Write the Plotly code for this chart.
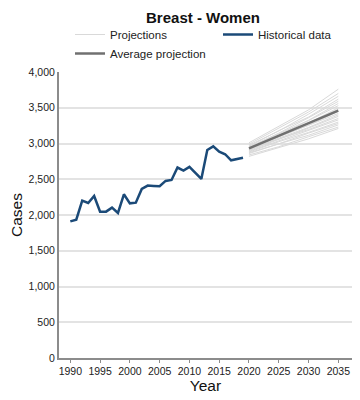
import plotly.graph_objects as go

hist_years = list(range(1990, 2020))
hist_cases = [1911, 1935, 2200, 2168, 2266, 2047, 2047, 2103, 2028, 2290,
              2163, 2173, 2364, 2411, 2406, 2402, 2477, 2490, 2664, 2622,
              2673, 2584, 2505, 2910, 2960, 2885, 2850, 2765, 2785, 2800]

proj_years = [2020, 2025, 2030, 2035]
projection_runs = [
    [3010, 3240, 3470, 3760],
    [2990, 3210, 3440, 3700],
    [2975, 3175, 3410, 3660],
    [2960, 3180, 3370, 3620],
    [2950, 3145, 3360, 3590],
    [2945, 3135, 3325, 3560],
    [2940, 3115, 3320, 3530],
    [2930, 3115, 3285, 3500],
    [2925, 3095, 3280, 3480],
    [2920, 3095, 3255, 3450],
    [2935, 3090, 3255, 3420],
    [2910, 3075, 3225, 3400],
    [2900, 3055, 3215, 3380],
    [2915, 3065, 3195, 3350],
    [2890, 3035, 3185, 3330],
    [2880, 3025, 3155, 3300],
    [2870, 2995, 3145, 3280],
    [2860, 2995, 3115, 3260],
    [2840, 2955, 3095, 3230],
    [2820, 2945, 3065, 3210],
]
avg_projection = [2932, 3110, 3285, 3460]

x_ticks = list(range(1990, 2040, 5))
y_ticks = list(range(0, 4500, 500))

FONT = "Liberation Sans, Arial, sans-serif"

# page body has an 8px margin, so the figure is 352x392 drawn at (8, 8)
W, H = 352, 392

fig = go.Figure()
for i, run in enumerate(projection_runs):
    fig.add_trace(go.Scatter(
        x=proj_years, y=run, mode="lines",
        line=dict(color="#d9d9d9", width=1),
        name="Projections", legendgroup="proj",
        showlegend=(i == 0), legendrank=1, hoverinfo="skip"))

fig.add_trace(go.Scatter(
    x=proj_years, y=avg_projection, mode="lines",
    line=dict(color="#707070", width=2.5),
    name="Average projection", legendrank=3))

fig.add_trace(go.Scatter(
    x=hist_years, y=hist_cases, mode="lines",
    line=dict(color="#1b4a78", width=2.5),
    name="Historical data", legendrank=2))

fig.update_layout(
    width=W, height=H,
    margin=dict(l=51, r=8, t=64, b=42, autoexpand=False),
    paper_bgcolor="white", plot_bgcolor="white",
    font=dict(family=FONT, color="#222222", size=11),
    title=dict(text="<b>Breast - Women</b>", x=195 / W, xref="container",
               xanchor="center", y=1 - 10 / H, yanchor="middle",
               font=dict(size=15, color="#111111")),
    legend=dict(orientation="h", xref="container", yref="container",
                x=62 / W, xanchor="left", y=1 - 12 / H, yanchor="top",
                entrywidth=103, entrywidthmode="pixels",
                font=dict(size=11.5, color="#222222"),
                bgcolor="rgba(0,0,0,0)", traceorder="normal"),
    showlegend=True,
)

fig.update_xaxes(
    range=[1988.1, 2037.3], tickvals=x_ticks,
    ticktext=[str(v) for v in x_ticks],
    showgrid=False, zeroline=False,
    showline=True, linecolor="#8c8c8c", linewidth=1.5,
    ticks="outside", ticklen=3, tickcolor="#8c8c8c",
    tickfont=dict(size=10.5, color="#222222"),
    title=dict(text="Year", font=dict(size=15.5, color="#111111"), standoff=0),
)
fig.update_yaxes(
    range=[0, 4000], tickvals=y_ticks,
    ticktext=[f"{v:,}" for v in y_ticks],
    showgrid=True, gridcolor="#e3e3e3", gridwidth=1.5,
    zeroline=False,
    showline=True, linecolor="#8c8c8c", linewidth=2,
    ticks="", tickfont=dict(size=10.5, color="#222222"),
    title=dict(text="Cases", font=dict(size=15.5, color="#111111"), standoff=6),
)

fig.write_html("out.html")
